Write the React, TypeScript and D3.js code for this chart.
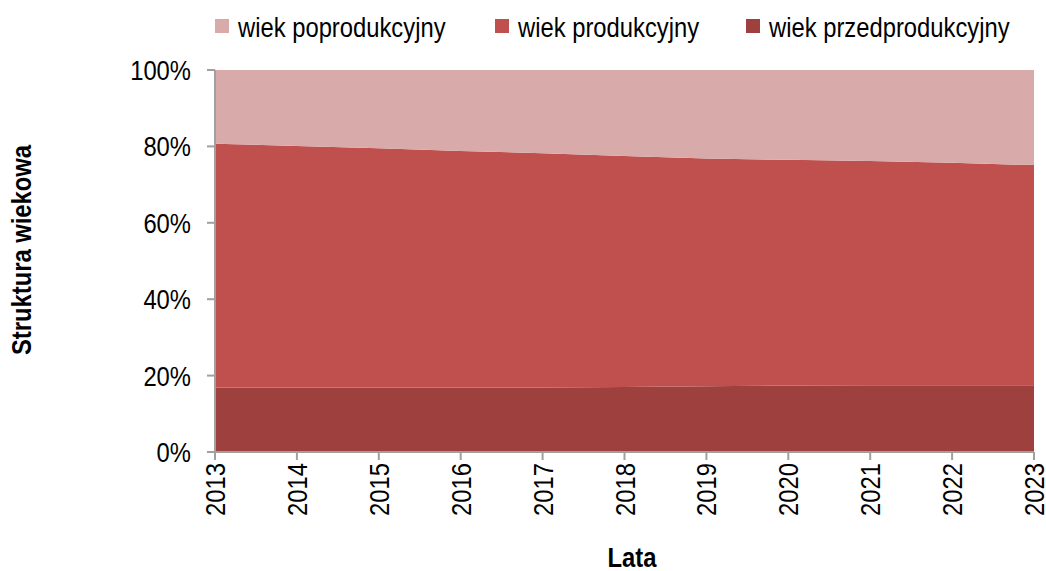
import React from "react";
import * as d3 from "d3";

const years = [2013, 2014, 2015, 2016, 2017, 2018, 2019, 2020, 2021, 2022, 2023];
// shares in %
const przed = [16.9, 16.9, 16.9, 16.9, 16.9, 17.0, 17.2, 17.4, 17.5, 17.5, 17.5];
const prod = [63.8, 63.2, 62.6, 61.9, 61.3, 60.5, 59.6, 59.1, 58.7, 58.2, 57.6];
const popr = [19.3, 19.9, 20.5, 21.2, 21.8, 22.5, 23.2, 23.5, 23.8, 24.3, 24.9];

const seriesNames = ["wiek przedprodukcyjny", "wiek produkcyjny", "wiek poprodukcyjny"];
const seriesColors = ["#9E413E", "#C0504D", "#D9AAAA"];
const yTicks = [0, 20, 40, 60, 80, 100];

const W = 1046;
const H = 571;
const m = { left: 215, right: 1034, top: 70, bottom: 452 };
const font = "'Liberation Sans', Arial, sans-serif";
const FS = 28;
const SX = 0.85; // narrow look of the original font

// text squeezed along its own direction
const T = ({ x, y, rot = 0, anchor = "start", bold = false, dy = "0", children }: any) => (
  <g transform={`translate(${x},${y}) rotate(${rot}) scale(${SX},1)`}>
    <text textAnchor={anchor} dy={dy} fontSize={FS} fontWeight={bold ? "bold" : "normal"} fill="#000">
      {children}
    </text>
  </g>
);

export default function App() {
  const rows = years.map((y, i) => ({ year: y, a: przed[i], b: prod[i], c: popr[i] }));
  const stack = d3.stack<any>().keys(["a", "b", "c"]).offset(d3.stackOffsetExpand);
  const layers = stack(rows);

  const x = d3.scaleLinear().domain([years[0], years[years.length - 1]]).range([m.left, m.right]);
  const y = d3.scaleLinear().domain([0, 1]).range([m.bottom, m.top]);

  const area = d3
    .area<any>()
    .x((d) => x(d.data.year))
    .y0((d) => y(d[0]))
    .y1((d) => y(d[1]));

  const legendOrder = [2, 1, 0];
  const legendX = [215, 495, 746];

  return (
    <svg width={W} height={H} style={{ position: "absolute", left: 0, top: 0 }} fontFamily={font}>
      {layers.map((l, i) => (
        <path key={i} d={area(l) || ""} fill={seriesColors[i]} />
      ))}

      {/* y axis */}
      <line x1={m.left} x2={m.left} y1={m.top} y2={m.bottom + 8} stroke="#A0A0A0" strokeWidth={2} />
      {yTicks.map((t) => (
        <g key={t}>
          <line x1={m.left - 8} x2={m.left} y1={y(t / 100)} y2={y(t / 100)} stroke="#A0A0A0" strokeWidth={2} />
          <T x={191} y={y(t / 100)} anchor="end" dy="0.36em">
            {t}%
          </T>
        </g>
      ))}

      {/* x axis */}
      <line x1={m.left} x2={m.right} y1={m.bottom} y2={m.bottom} stroke="#A0A0A0" strokeWidth={2} />
      {years.map((yr) => (
        <g key={yr}>
          <line x1={x(yr)} x2={x(yr)} y1={m.bottom} y2={m.bottom + 8} stroke="#A0A0A0" strokeWidth={2} />
          <T x={x(yr)} y={m.bottom + 11} rot={-90} anchor="end" dy="0.36em">
            {yr}
          </T>
        </g>
      ))}

      {/* axis titles */}
      <T x={31} y={250} rot={-90} anchor="middle" bold>
        Struktura wiekowa
      </T>
      <T x={632} y={567} anchor="middle" bold>
        Lata
      </T>

      {/* legend */}
      {legendOrder.map((si, k) => (
        <g key={si}>
          <rect x={legendX[k]} y={19} width={14} height={14} fill={seriesColors[si]} />
          <T x={legendX[k] + 23} y={27} dy="0.36em">
            {seriesNames[si]}
          </T>
        </g>
      ))}
    </svg>
  );
}
